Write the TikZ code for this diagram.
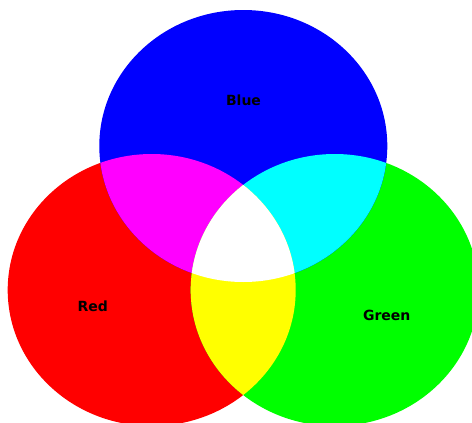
\documentclass[tikz,border=0pt]{standalone}
\usepackage{fontspec}
\setmainfont{DejaVu Sans}
\definecolor{cR}{RGB}{255,0,0}
\definecolor{cG}{RGB}{0,255,0}
\definecolor{cB}{RGB}{0,0,255}
\definecolor{cM}{RGB}{255,0,255}
\definecolor{cC}{RGB}{0,255,255}
\definecolor{cY}{RGB}{255,255,0}
\definecolor{cW}{RGB}{255,255,255}
\begin{document}
\begin{tikzpicture}[x=1pt,y=-1pt,
  lbl/.style={font=\bfseries\fontsize{14}{16}\selectfont, text=black, inner sep=0pt}]
\useasboundingbox (0,0) rectangle (472,423);
\clip (0,0) rectangle (472,423);
\def\rx{144}\def\ry{136}
\def\redE{(151.7,290) ellipse [x radius=\rx, y radius=\ry]}
\def\greenE{(334.7,290) ellipse [x radius=\rx, y radius=\ry]}
\def\blueE{(243.3,146) ellipse [x radius=\rx, y radius=\ry]}
\fill[cR] \redE;
\fill[cG] \greenE;
\fill[cB] \blueE;
\begin{scope}
  \clip \redE; \fill[cM] \blueE;
\end{scope}
\begin{scope}
  \clip \greenE; \fill[cC] \blueE;
\end{scope}
\begin{scope}
  \clip \redE; \fill[cY] \greenE;
\end{scope}
\begin{scope}
  \clip \redE; \clip \greenE; \fill[cW] \blueE;
\end{scope}
\node[lbl] (blue) at (243.5,100.5) {Blue};
\node[lbl] (red) at (92.7,306) {Red};
\node[lbl] (green) at (386.7,315.7) {Green};
\end{tikzpicture}
\end{document}
